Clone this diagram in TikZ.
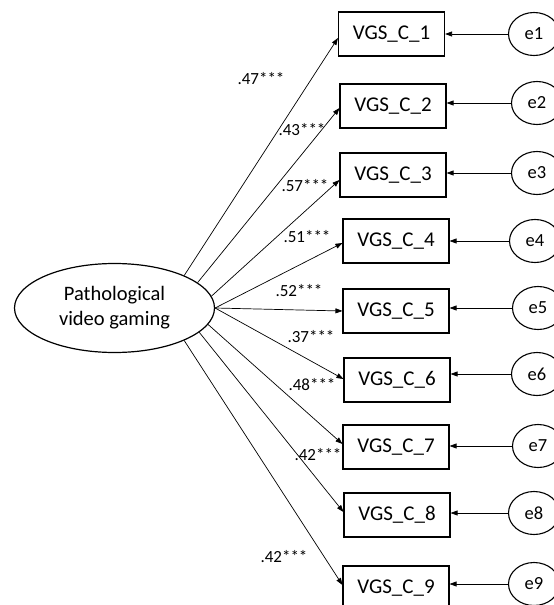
\documentclass[tikz,border=0pt]{standalone}
\usepackage{fontspec}
\setmainfont{Carlito}
\usetikzlibrary{arrows.meta,shapes.geometric}
\begin{document}
\begin{tikzpicture}[x=1pt,y=-1pt,
  obs/.style={draw,line width=1.1pt,minimum width=106pt,minimum height=44pt,inner sep=0pt,font=\fontsize{21}{24}\selectfont},
  err/.style={draw,ellipse,line width=1.1pt,minimum width=51pt,minimum height=43pt,inner sep=0pt,font=\fontsize{18.5}{21}\selectfont},
  lat/.style={draw,ellipse,line width=1.2pt,minimum width=200pt,minimum height=89pt,inner sep=0pt,align=center,font=\fontsize{20.5}{25}\selectfont},
  lab/.style={inner sep=0pt,font=\fontsize{17}{19}\selectfont},
  arr/.style={line width=0.7pt,-{Triangle[length=7pt,width=5pt]}}]
\useasboundingbox (0,0) rectangle (554,605);
\node[lat] (P) at (114.5,308) {Pathological\\video gaming};
\node[obs] (b1) at (391.5,34) {VGS\_C\_1};
\node[obs] (b2) at (393,106) {VGS\_C\_2};
\node[obs] (b3) at (393,175) {VGS\_C\_3};
\node[obs] (b4) at (396,241) {VGS\_C\_4};
\node[obs] (b5) at (396,311) {VGS\_C\_5};
\node[obs] (b6) at (397,380) {VGS\_C\_6};
\node[obs] (b7) at (396,447) {VGS\_C\_7};
\node[obs] (b8) at (397,515) {VGS\_C\_8};
\node[obs] (b9) at (396,588) {VGS\_C\_9};
\node[err] (e1) at (534,34) {e1};
\node[err] (e2) at (537,103) {e2};
\node[err] (e3) at (537,173) {e3};
\node[err] (e4) at (535,241) {e4};
\node[err] (e5) at (538,308) {e5};
\node[err] (e6) at (537,374) {e6};
\node[err] (e7) at (538,446) {e7};
\node[err] (e8) at (534,513) {e8};
\node[err] (e9) at (534,584) {e9};
\foreach \i in {1,...,9} {\draw[arr] (e\i.west) -- (e\i.west -| b\i.east);}
\draw[arr] (P.25) -- ([yshift=-4pt]b1.west);
\draw[arr] (P.17) -- ([yshift=-2pt]b2.west);
\draw[arr] (P.7) -- ([yshift=-5pt]b3.west);
\draw[arr] (P.0) -- ([yshift=-2pt]b4.west);
\draw[arr] (P.0) -- (b5.west);
\draw[arr] (P.0) -- ([yshift=1pt]b6.west);
\draw[arr] (P.-10) -- ([yshift=3pt]b7.west);
\draw[arr] (P.-16) -- ([yshift=3pt]b8.west);
\draw[arr] (P.-25) -- ([yshift=3pt]b9.west);
\node[lab] (l1) at (261,79) {.47***};
\node[lab] (l2) at (302,130) {.43***};
\node[lab] (l3) at (305,186) {.57***};
\node[lab] (l4) at (307,237) {.51***};
\node[lab] (l5) at (299,291) {.52***};
\node[lab] (l6) at (311,337) {.37***};
\node[lab] (l7) at (312,385) {.48***};
\node[lab] (l8) at (318,455) {.42***};
\node[lab] (l9) at (284,557) {.42***};
\end{tikzpicture}
\end{document}
